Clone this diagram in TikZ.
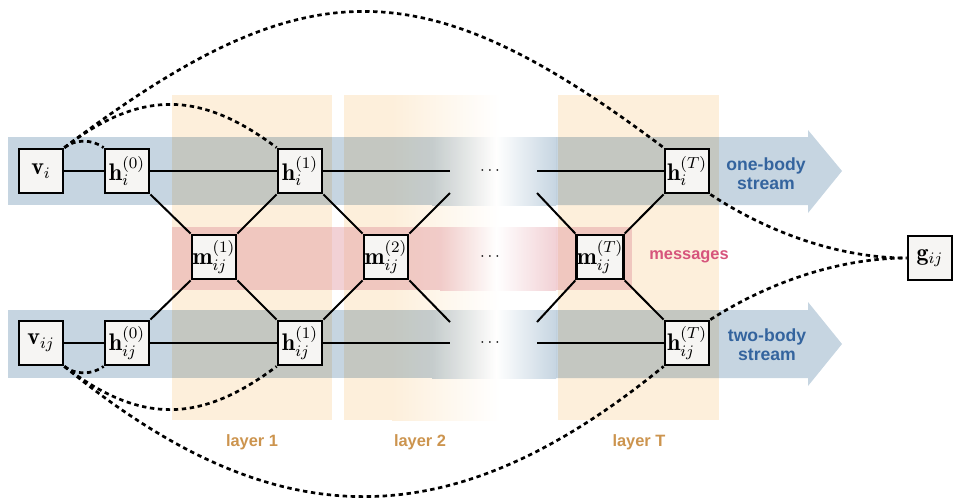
\documentclass[tikz,border=0pt]{standalone}
\usepackage{fontspec}
\newfontfamily\lblfont{Liberation Sans}
\definecolor{bandblue}{RGB}{198,213,225}
\definecolor{layerorange}{RGB}{253,239,219}
\definecolor{msgpink}{RGB}{222,140,150}
\definecolor{streamtext}{RGB}{52,100,158}
\definecolor{msgtext}{RGB}{214,84,124}
\definecolor{layertext}{RGB}{204,148,78}
\definecolor{boxfill}{RGB}{246,245,243}
\begin{document}
\begin{tikzpicture}[x=0.5pt,y=-0.5pt,
  vbox/.style={draw=black, line width=1.4pt, fill=boxfill, minimum width=22pt, minimum height=22pt, inner sep=0pt, font=\large},
  conn/.style={line width=1pt},
  dashconn/.style={line width=1.35pt, dash pattern=on 2.2pt off 1.8pt},
  streamlbl/.style={font=\lblfont\bfseries\fontsize{8.8}{9.6}\selectfont, text=streamtext, align=center, inner sep=0pt},
  msglbl/.style={font=\lblfont\bfseries\fontsize{8.2}{9.6}\selectfont, text=msgtext, inner sep=0pt},
  layerlbl/.style={font=\lblfont\bfseries\fontsize{8.2}{9.6}\selectfont, text=layertext, inner sep=0pt},
  dotlbl/.style={font=\footnotesize\bfseries, inner sep=0pt},
  pinkband/.style={opacity=0.4}
]
\useasboundingbox (0,0) rectangle (953,500);
% layers
\fill[layerorange] (172,95) rectangle (332,420);
\fill[layerorange] (344,95) rectangle (392,420);
\shade[left color=layerorange, right color=white] (392,95) rectangle (500,420);
\fill[layerorange] (558,95) rectangle (719,420);
% streams
\begin{scope}[blend mode=multiply]
\fill[bandblue] (8,137) rectangle (432,205);
\shade[left color=bandblue, right color=white] (432,137) rectangle (496,205);
\shade[left color=white, right color=bandblue] (496,137) rectangle (556,205);
\fill[bandblue] (556,137) -- (808,137) -- (808,130) -- (842,171) -- (808,213) -- (808,205) -- (556,205) -- cycle;
\fill[bandblue] (8,310) rectangle (432,378);
\shade[left color=bandblue, right color=white] (432,310) rectangle (496,378);
\shade[left color=white, right color=bandblue] (496,310) rectangle (556,378);
\fill[bandblue] (556,310) -- (808,310) -- (808,302) -- (842,344) -- (808,386) -- (808,378) -- (556,378) -- cycle;
\end{scope}
% messages band
\fill[msgpink, pinkband] (172,227) rectangle (440,290);
\shade[left color=msgpink, right color=white, pinkband] (440,227) rectangle (496,290);
\shade[left color=white, right color=msgpink, pinkband] (496,227) rectangle (556,290);
\fill[msgpink, pinkband] (556,227) rectangle (632,290);
% coordinates for open ends
\coordinate (ti) at (450,171);
\coordinate (tiR) at (537,171);
\coordinate (tdL) at (450,193);
\coordinate (tdR) at (537,193);
\coordinate (bdL) at (450,322);
\coordinate (bdR) at (537,322);
\coordinate (bi) at (450,343);
\coordinate (biR) at (537,343);
% nodes
\node[vbox] (vi) at (41,171) {$\mathbf{v}_i$};
\node[vbox] (hi0) at (127,171) {$\mathbf{h}_i^{(0)}$};
\node[vbox] (hi1) at (300,171) {$\mathbf{h}_i^{(1)}$};
\node[vbox] (hiT) at (687,171) {$\mathbf{h}_i^{(T)}$};
\node[vbox] (m1) at (214,257) {$\mathbf{m}_{ij}^{(1)}$};
\node[vbox] (m2) at (386,257) {$\mathbf{m}_{ij}^{(2)}$};
\node[vbox] (mT) at (600,257) {$\mathbf{m}_{ij}^{(T)}$};
\node[vbox] (vij) at (41,343) {$\mathbf{v}_{ij}$};
\node[vbox] (hij0) at (127,343) {$\mathbf{h}_{ij}^{(0)}$};
\node[vbox] (hij1) at (300,343) {$\mathbf{h}_{ij}^{(1)}$};
\node[vbox] (hijT) at (687,343) {$\mathbf{h}_{ij}^{(T)}$};
\node[vbox] (g) at (930,258) {$\mathbf{g}_{ij}$};
% dots
\node[dotlbl] (d1) at (490,171) {$\cdots$};
\node[dotlbl] (d2) at (490,257) {$\cdots$};
\node[dotlbl] (d3) at (490,343) {$\cdots$};
% solid connectors
\draw[conn] (vi) -- (hi0);
\draw[conn] (hi0) -- (hi1);
\draw[conn] (hi1.east) -- (ti);
\draw[conn] (tiR) -- (hiT.west);
\draw[conn] (vij) -- (hij0);
\draw[conn] (hij0) -- (hij1);
\draw[conn] (hij1.east) -- (bi);
\draw[conn] (biR) -- (hijT.west);
\draw[conn] (hi0.south east) -- (m1.north west);
\draw[conn] (m1.north east) -- (hi1.south west);
\draw[conn] (hi1.south east) -- (m2.north west);
\draw[conn] (m2.north east) -- (tdL);
\draw[conn] (tdR) -- (mT.north west);
\draw[conn] (mT.north east) -- (hiT.south west);
\draw[conn] (m1.south west) -- (hij0.north east);
\draw[conn] (m1.south east) -- (hij1.north west);
\draw[conn] (hij1.north east) -- (m2.south west);
\draw[conn] (m2.south east) -- (bdL);
\draw[conn] (bdR) -- (mT.south west);
\draw[conn] (mT.south east) -- (hijT.north west);
% dashed connectors
\draw[dashconn] (vi.north east) .. controls (75,139) and (92,139) .. (hi0.north west);
\draw[dashconn] (vi.north east) .. controls (140,90) and (200,90) .. (hi1.north west);
\draw[dashconn] (vi.north east) .. controls (305,-34) and (422,-34) .. (hiT.north west);
\draw[dashconn] (vij.south east) .. controls (75,375) and (92,375) .. (hij0.south west);
\draw[dashconn] (vij.south east) .. controls (140,424) and (200,424) .. (hij1.south west);
\draw[dashconn] (vij.south east) .. controls (276,540) and (451,540) .. (hijT.south west);
\draw[dashconn] (hiT.south east) .. controls (769,233) and (840,258) .. (g.west);
\draw[dashconn] (hijT.north east) .. controls (769,282) and (840,258) .. (g.west);
% labels
\node[streamlbl] (ob) at (766,174) {one-body\\stream};
\node[streamlbl] (tb) at (767,345) {two-body\\stream};
\node[msglbl] (msg) at (689,257) {messages};
\node[layerlbl] (l1) at (252,442) {layer 1};
\node[layerlbl] (l2) at (420,442) {layer 2};
\node[layerlbl] (lT) at (639,442) {layer T};
\end{tikzpicture}
\end{document}
